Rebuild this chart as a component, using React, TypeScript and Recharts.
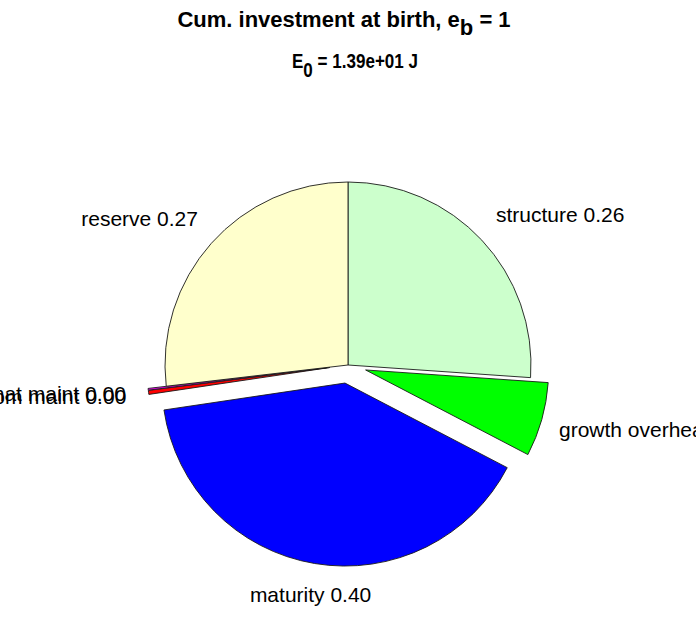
import React from 'react';
import { PieChart, Pie, Cell } from 'recharts';

const categories = ['structure', 'growth overhead', 'maturity', 'som maint', 'mat maint', 'reserve'];
const fractions = [0.261, 0.0655, 0.4, 0.0035, 0.0015, 0.2685];
const labelValues = ['0.26', '0.07', '0.40', '0.00', '0.00', '0.27'];
const colors = ['#ccffcc', '#00ff00', '#0000ff', '#ff0000', '#ff00ff', '#ffffcc'];
const exploded = [false, true, true, true, true, false];

const data = categories.map((name, i) => ({
  name,
  value: fractions[i],
  text: `${name} ${labelValues[i]}`,
}));

const W = 696;
const H = 618;
const CX = 348;
const CY = 365;
const R = 183;
const START = 90;
const END = -270;
const EXPLODE = 0.1 * R;
const FONT = 'Liberation Sans, Arial, Helvetica, sans-serif';

const total = fractions.reduce((a, b) => a + b, 0);
const sliceMid = (i: number) => {
  const cum = fractions.slice(0, i).reduce((a, b) => a + b, 0);
  return START + ((END - START) * (cum + fractions[i] / 2)) / total;
};

const makeLabel = (i: number) => (props: any) => {
  if (props.index !== i) return null;
  const { cx, cy, midAngle, outerRadius } = props;
  const rad = (-midAngle * Math.PI) / 180;
  const r = 1.2 * outerRadius;
  const x = cx + r * Math.cos(rad);
  const y = cy + r * Math.sin(rad);
  const c = Math.cos(rad);
  const s = -Math.sin(rad);
  const len = data[i].text.length;
  let anchor: 'start' | 'end' | 'middle' = 'middle';
  let dx = 2;
  if (Math.abs(c) > 0.3) {
    anchor = c > 0 ? 'start' : 'end';
    dx = c > 0 ? -0.9 * len : 14;
  }
  const dy = s > -0.6 ? 7 : 2;
  return (
    <text
      key={`lbl-${i}`}
      x={x + dx}
      y={y + dy}
      textAnchor={anchor}
      fontFamily={FONT}
      fontSize={21}
      fill="#000"
    >
      {data[i].text}
    </text>
  );
};

export default function App() {
  return (
    <div style={{ position: 'absolute', left: 0, top: 0, width: W, height: H, background: '#fff' }}>
      <PieChart width={W} height={H} margin={{ top: 0, right: 0, bottom: 0, left: 0 }}>
        {data.map((d, i) => {
          const mid = (sliceMid(i) * Math.PI) / 180;
          const off = exploded[i] ? EXPLODE : 0;
          const cx = CX + off * Math.cos(mid);
          const cy = CY - off * Math.sin(mid);
          return (
            <Pie
              key={d.name}
              data={data}
              dataKey="value"
              nameKey="name"
              cx={cx}
              cy={cy}
              outerRadius={R}
              innerRadius={0}
              startAngle={START}
              endAngle={END}
              paddingAngle={0}
              isAnimationActive={false}
              labelLine={false}
              label={makeLabel(i)}
            >
              {data.map((e, j) => (
                <Cell
                  key={e.name}
                  fill={j === i ? colors[j] : 'none'}
                  stroke={j === i ? '#1a1a1a' : 'none'}
                  strokeWidth={j === i ? 0.9 : 0}
                />
              ))}
            </Pie>
          );
        })}
      </PieChart>
      <svg width={W} height={90} style={{ position: 'absolute', left: 0, top: 0 }}>
        <text x={344} y={27} textAnchor="middle" fontFamily={FONT} fontWeight="bold" fontSize={22} fill="#000">
          Cum. investment at birth, e
          <tspan dy={8}>b</tspan>
          <tspan dy={-8}> = 1</tspan>
        </text>
        <text
          x={292}
          y={68}
          textAnchor="start"
          fontFamily={FONT}
          fontWeight="bold"
          fontSize={20}
          fill="#000"
          textLength={126}
          lengthAdjust="spacingAndGlyphs"
        >
          E
          <tspan dy={9}>0</tspan>
          <tspan dy={-9}> = 1.39e+01 J</tspan>
        </text>
      </svg>
    </div>
  );
}
